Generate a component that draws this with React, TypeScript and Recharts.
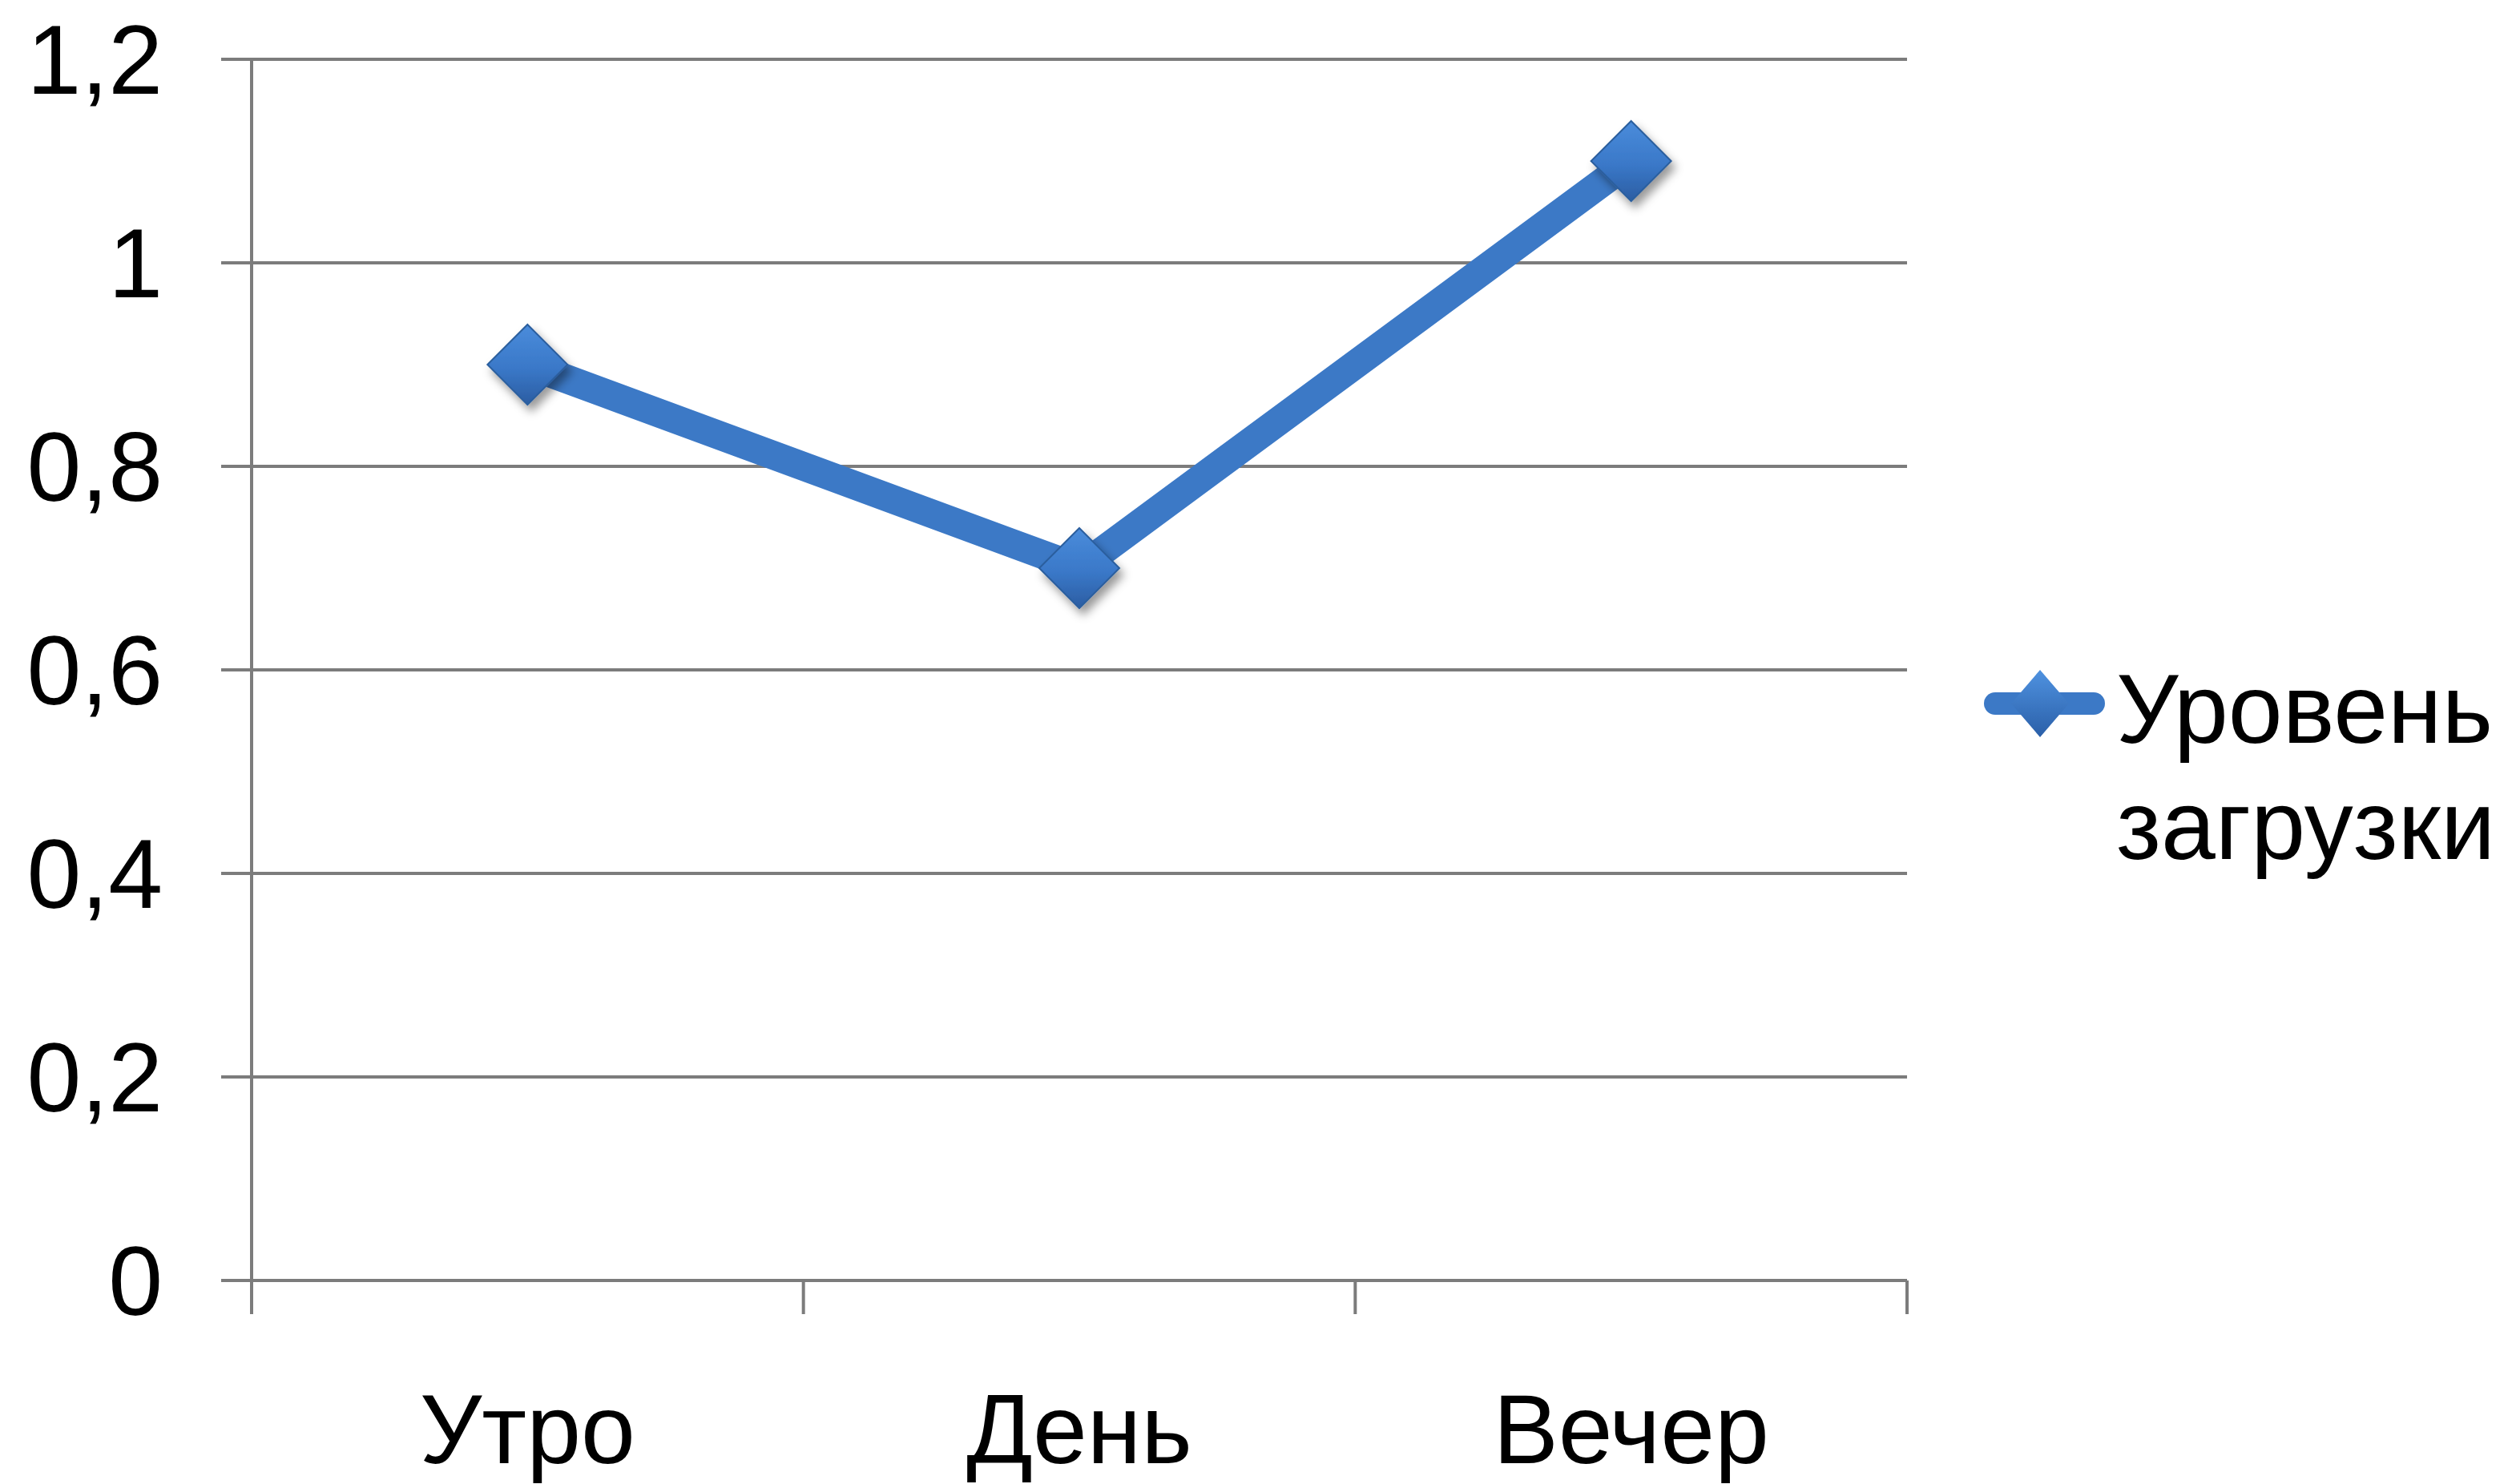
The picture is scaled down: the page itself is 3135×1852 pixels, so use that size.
import React from 'react';
import { LineChart, Line, XAxis, YAxis, CartesianGrid, Legend } from 'recharts';

const categories = ['Утро', 'День', 'Вечер'];
const loadValues = [0.9, 0.7, 1.1];
const yTicks = [0, 0.2, 0.4, 0.6, 0.8, 1, 1.2];
const seriesName = 'Уровень загрузки';

const data = categories.map((c, i) => ({ name: c, value: loadValues[i] }));

const W = 3135;
const H = 1852;
const PLOT_LEFT = 314;
const PLOT_RIGHT = 2380;
const PLOT_TOP = 74;
const PLOT_BOTTOM = 1598;
const BAND = (PLOT_RIGHT - PLOT_LEFT) / categories.length;
const GRID = '#7C7C7C';
const LINE = '#3C79C6';
const FONT = '"Liberation Sans", Arial, sans-serif';

const XTick = (props: any) => {
  const { x, y, payload, index } = props;
  const last = index === categories.length - 1;
  return (
    <g>
      <line x1={x - BAND / 2} x2={x - BAND / 2} y1={y} y2={y + 42} stroke={GRID} strokeWidth={4} />
      {last && <line x1={x + BAND / 2} x2={x + BAND / 2} y1={y} y2={y + 42} stroke={GRID} strokeWidth={4} />}
      <text x={x} y={y + 228} textAnchor="middle" fontSize={122} fill="#000" fontFamily={FONT}>
        {payload.value}
      </text>
    </g>
  );
};

const DiamondDot = (props: any) => {
  const { cx, cy, index } = props;
  if (cx == null || cy == null) return null;
  const r = 50;
  return (
    <polygon
      key={`d-${index}`}
      points={`${cx},${cy - r} ${cx + r},${cy} ${cx},${cy + r} ${cx - r},${cy}`}
      fill="url(#diamondGrad)"
      stroke="#2C5E9E"
      strokeWidth={2}
      filter="url(#dropShadow)"
    />
  );
};

const LegendContent = () => (
  <div style={{ display: 'flex', alignItems: 'flex-start', fontFamily: FONT }}>
    <svg width={165} height={145} style={{ display: 'block', flex: 'none' }}>
      <defs>
        <linearGradient id="legendGrad" x1="0" y1="0" x2="0" y2="1">
          <stop offset="0%" stopColor="#4F92E0" />
          <stop offset="100%" stopColor="#2A5FA8" />
        </linearGradient>
      </defs>
      <line x1={14} x2={137} y1={65} y2={65} stroke={LINE} strokeWidth={28} strokeLinecap="round" />
      <polygon points={`70,23 106,65 70,107 34,65`} fill="url(#legendGrad)" />
    </svg>
    <div style={{ fontSize: 122, lineHeight: '145px', color: '#000', width: 494 }}>{seriesName}</div>
  </div>
);

const fmt = (v: number) => String(v).replace('.', ',');

export default function App() {
  return (
    <div style={{ position: 'absolute', left: 0, top: 0, width: W, height: H, background: '#fff' }}>
      <LineChart
        width={W}
        height={H}
        data={data}
        margin={{ top: PLOT_TOP, right: W - PLOT_RIGHT, bottom: 14, left: 0 }}
      >
        <defs>
          <linearGradient id="diamondGrad" x1="0" y1="0" x2="0" y2="1">
            <stop offset="0%" stopColor="#4A8CDB" />
            <stop offset="55%" stopColor="#3A78C8" />
            <stop offset="100%" stopColor="#2B5DA2" />
          </linearGradient>
          <filter id="dropShadow" x="-50%" y="-50%" width="200%" height="200%">
            <feDropShadow dx="5" dy="8" stdDeviation="6" floodColor="#000" floodOpacity="0.4" />
          </filter>
        </defs>
        <CartesianGrid horizontal vertical={false} stroke={GRID} strokeWidth={4} />
        <XAxis
          dataKey="name"
          height={H - PLOT_BOTTOM - 14}
          padding={{ left: BAND / 2, right: BAND / 2 }}
          axisLine={{ stroke: GRID, strokeWidth: 4 }}
          tickLine={false}
          tickSize={0}
          tickMargin={0}
          tick={<XTick />}
          interval={0}
        />
        <YAxis
          width={PLOT_LEFT}
          domain={[0, 1.2]}
          ticks={yTicks}
          tickFormatter={fmt}
          axisLine={{ stroke: GRID, strokeWidth: 4 }}
          tickLine={{ stroke: GRID, strokeWidth: 4 }}
          tickSize={38}
          tickMargin={73}
          tick={{ fontSize: 122, fill: '#000', fontFamily: FONT }}
          interval={0}
        />
        <Legend
          layout="vertical"
          align="center"
          verticalAlign="middle"
          content={<LegendContent />}
          wrapperStyle={{ left: 2476, top: 813, width: 659 }}
        />
        <Line
          type="linear"
          dataKey="value"
          name={seriesName}
          stroke={LINE}
          strokeWidth={36}
          dot={<DiamondDot />}
          activeDot={false}
          isAnimationActive={false}
        />
      </LineChart>
    </div>
  );
}
